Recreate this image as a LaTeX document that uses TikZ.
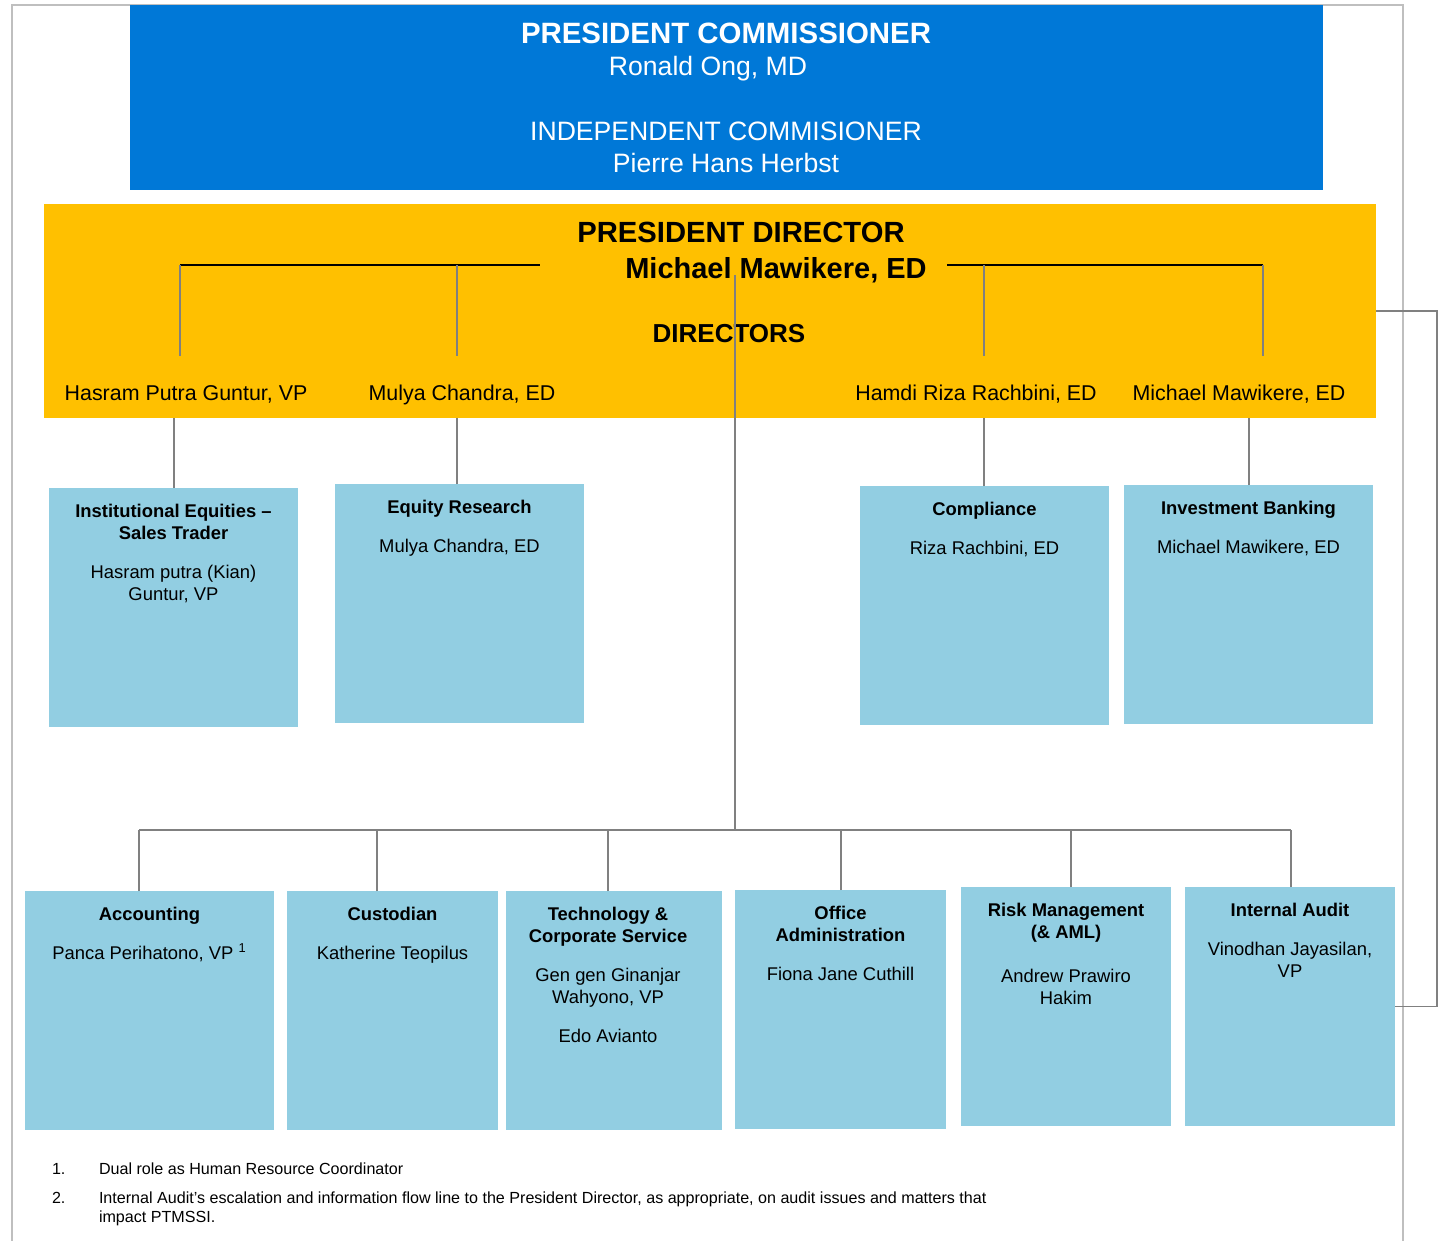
\documentclass[tikz,border=0pt]{standalone}
\usepackage{fontspec}
\setmainfont{Liberation Sans}
\usetikzlibrary{positioning}
\definecolor{commblue}{RGB}{0,120,215}
\definecolor{diryellow}{RGB}{255,192,0}
\definecolor{unitblue}{RGB}{146,206,226}
\definecolor{linkgray}{RGB}{128,128,128}
\definecolor{framegray}{RGB}{191,191,191}

\begin{document}
\begin{tikzpicture}[
    x=0.5pt, y=-0.5pt,
    every node/.style={inner sep=0pt, outer sep=0pt},
    band/.style={anchor=north west},
    unit/.style={
        fill=unitblue,
        anchor=north west,
        minimum height=119.5pt
    },
    unittext/.style={
        anchor=north, yshift=-8.2pt,
        align=center,
        font=\fontsize{9.2}{11}\selectfont
    },
    dirname/.style={anchor=north, font=\fontsize{10.7}{13}\selectfont},
    note/.style={anchor=north west, align=left, font=\fontsize{8.05}{9.5}\selectfont},
    link/.style={draw=linkgray, line width=0.8pt},
    bar/.style={draw=black, line width=1pt},
    frame/.style={draw=framegray, line width=1pt}
]
\useasboundingbox (0,0) rectangle (1439,1241);

% page frame
\draw[frame] (12,1241) -- (12,5) -- (1403,5) -- (1403,1241);

% board
\node[band, fill=commblue, minimum width=596.5pt, minimum height=92.5pt] (commbox) at (130,5) {};
\node[anchor=north, text=white, font=\fontsize{14.7}{16.5}\selectfont\bfseries] (pcomm)
    at (726,22.7) {PRESIDENT COMMISSIONER};
\node[anchor=north, text=white, font=\fontsize{13.3}{16.5}\selectfont] (pcommname)
    at (708,56.7) {Ronald Ong, MD};
\node[anchor=north, align=center, text=white, font=\fontsize{13.3}{16}\selectfont] (icomm)
    at (726,121.6) {INDEPENDENT COMMISIONER\\Pierre Hans Herbst};

% directors
\node[band, fill=diryellow, minimum width=666pt, minimum height=107pt] (dirbox) at (44,204) {};
\node[anchor=north, font=\fontsize{14.6}{17}\selectfont\bfseries] (pdir) at (741,222.6) {PRESIDENT DIRECTOR};
\node[anchor=north, font=\fontsize{14.5}{17}\selectfont\bfseries] (pdirname) at (776,257.6) {Michael Mawikere, ED};
\node[anchor=north, font=\fontsize{13}{15}\selectfont\bfseries] (dirs) at (729,324.7) {DIRECTORS};
\node[dirname] (hasram) at (186,385.4) {Hasram Putra Guntur, VP};
\node[dirname] (mulya) at (462,385.4) {Mulya Chandra, ED};
\node[dirname] (hamdi) at (976,385.4) {Hamdi Riza Rachbini, ED};
\node[dirname] (michael) at (1239,385.4) {Michael Mawikere, ED};

% business units
\node[unit, minimum width=124.5pt] (inst) at (49,488) {};
\node[unit, minimum width=124.5pt] (equity) at (335,484) {};
\node[unit, minimum width=124.5pt] (compl) at (860,486) {};
\node[unit, minimum width=124.5pt] (invbank) at (1124,485) {};
\node[unittext] (inst-t) at (inst.north)
    {\textbf{Institutional Equities –}\\\textbf{Sales Trader}\\[8.5pt]Hasram putra (Kian)\\Guntur, VP};
\node[unittext] (equity-t) at (equity.north) {\textbf{Equity Research}\\[8.5pt]Mulya Chandra, ED};
\node[unittext] (compl-t) at (compl.north) {\textbf{Compliance}\\[8.5pt]Riza Rachbini, ED};
\node[unittext] (invbank-t) at (invbank.north) {\textbf{Investment Banking}\\[8.5pt]Michael Mawikere, ED};

% support units
\node[unit, minimum width=124.5pt] (acct) at (25,891) {};
\node[unit, minimum width=105.5pt] (cust) at (287,891) {};
\node[unit, minimum width=108pt] (tech) at (506,891) {};
\node[unit, minimum width=105.5pt] (office) at (735,890) {};
\node[unit, minimum width=105pt] (risk) at (961,887) {};
\node[unit, minimum width=105pt] (audit) at (1185,887) {};
\node[unittext] (acct-t) at (acct.north) {\textbf{Accounting}\\[8.5pt]Panca Perihatono, VP \textsuperscript{1}};
\node[unittext] (cust-t) at (cust.north) {\textbf{Custodian}\\[8.5pt]Katherine Teopilus};
\node[unittext, xshift=-3pt] (tech-t) at (tech.north)
    {\textbf{Technology \&}\\\textbf{Corporate Service}\\[8.5pt]Gen gen Ginanjar\\Wahyono, VP\\[8.5pt]Edo Avianto};
\node[unittext] (office-t) at (office.north) {\textbf{Office}\\\textbf{Administration}\\[8.5pt]Fiona Jane Cuthill};
\node[unittext] (risk-t) at (risk.north)
    {\textbf{Risk Management}\\\textbf{(\& AML)}\\[11pt]Andrew Prawiro\\Hakim};
\node[unittext] (audit-t) at (audit.north) {\textbf{Internal Audit}\\[8.5pt]Vinodhan Jayasilan,\\VP};

% reporting lines
\coordinate (leftbarL) at (180,265);
\coordinate (leftbarR) at (540,265);
\coordinate (mulyatick) at (457,265);
\coordinate (rightbarL) at (947,265);
\coordinate (hamditick) at (984,265);
\coordinate (rightbarR) at (1263,265);
\draw[bar] (leftbarL) -- (leftbarR);
\draw[bar] (rightbarL) -- (rightbarR);
\foreach \t in {leftbarL, mulyatick, hamditick, rightbarR}
    \draw[link] (\t) -- ++(0,91);

\foreach \u/\s in {inst/0.25, equity/-1.25, compl/-0.25, invbank/0.25}
    \draw[link] ([xshift=\s]\u.north) -- ([xshift=\s]\u.north |- dirbox.south);

\coordinate (hubtop) at (735,275);
\coordinate (bus) at (735,830);
\coordinate (busL) at (139,830);
\coordinate (busR) at (1291,830);
\draw[link] (hubtop) -- (bus);
\draw[link] (busL) -- (busR);
\foreach \u/\s in {acct/-5.25, cust/-7.75, tech/-3, office/0.25, risk/2.5, audit/0.5}
    \draw[link] ([xshift=\s]\u.north) -- ([xshift=\s]\u.north |- bus);

% escalation line
\draw[link] (dirbox.east) -- ++(61,0) |- (audit.east);

% notes
\node[note] (fn1num) at (52,1163.3) {1.};
\node[note] (fn1) at (99,1163.3) {Dual role as Human Resource Coordinator};
\node[note] (fn2num) at (52,1192.3) {2.};
\node[note] (fn2) at (99,1192.3)
    {Internal Audit’s escalation and information flow line to the President Director, as appropriate, on audit issues and matters that\\impact PTMSSI.};
\end{tikzpicture}
\end{document}
